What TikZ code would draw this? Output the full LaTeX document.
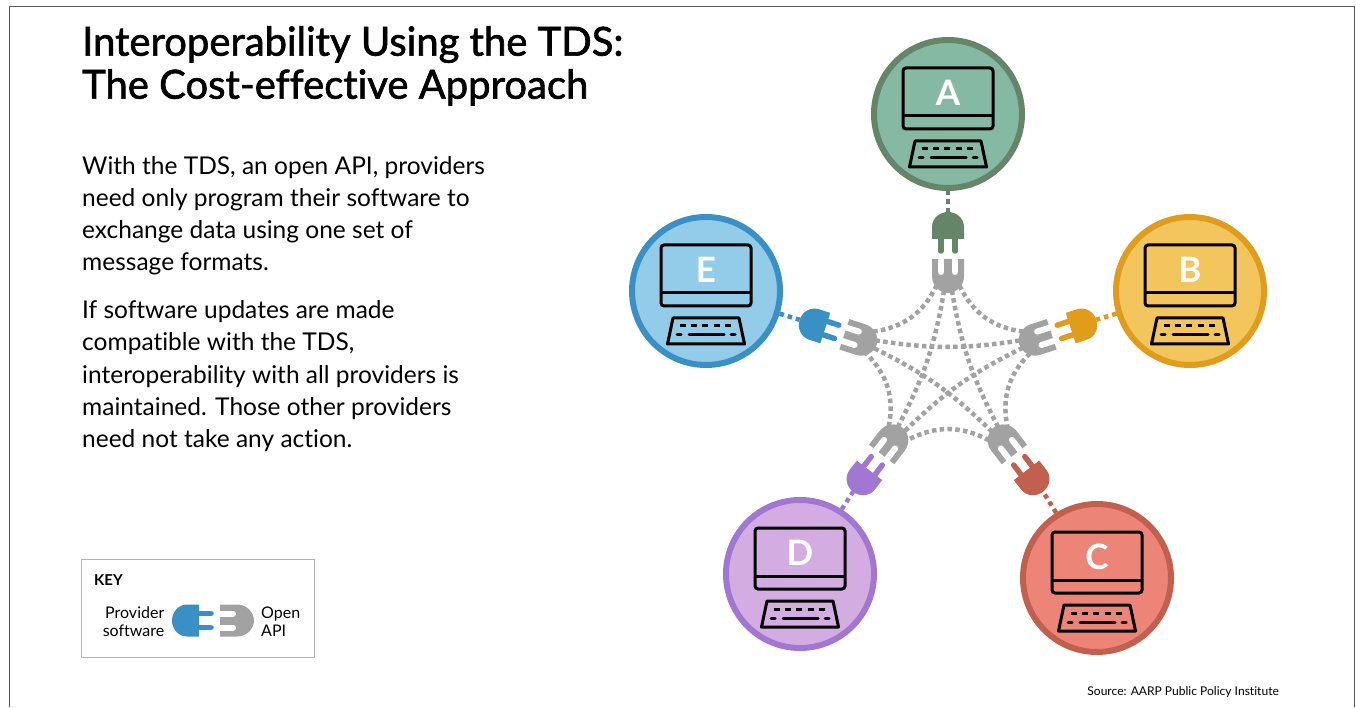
\documentclass[tikz,border=0pt]{standalone}
\usepackage{fontspec}
\setmainfont{Lato}[Ligatures=NoCommon]
\newfontfamily\headfont{Lato}[Ligatures=NoCommon,FakeBold=1.6]
\usetikzlibrary{calc}
\definecolor{fillA}{HTML}{86B9A4}
\definecolor{lineA}{HTML}{648567}
\definecolor{fillB}{HTML}{F2C65C}
\definecolor{lineB}{HTML}{E09C1A}
\definecolor{fillC}{HTML}{EC8578}
\definecolor{lineC}{HTML}{C1604E}
\definecolor{fillD}{HTML}{D3ADE2}
\definecolor{lineD}{HTML}{A177D2}
\definecolor{fillE}{HTML}{93CCE8}
\definecolor{lineE}{HTML}{3A8FC5}
\definecolor{apigray}{HTML}{A2A2A2}
\tikzset{pc/.style={
            circle,
            line width=6pt,
            inner sep=0pt,
            minimum size=148pt
        },
        pcletter/.style={
            text=white,
            inner sep=0pt,
            font=\fontsize{35}{35}\selectfont\bfseries
        },
        stub/.style={
            line width=4.5pt,
            dash pattern=on 4.5pt off 4pt
        },
        link/.style={
            apigray,
            line width=4.5pt,
            dash pattern=on 4.5pt off 3.3pt
        },
        title/.style={
            anchor=north west,
            align=left,
            inner sep=0pt,
            font=\fontsize{40}{43}\selectfont\headfont
        },
        para/.style={
            anchor=north west,
            align=left,
            inner sep=0pt,
            font=\fontsize{24.5}{32.2}\selectfont
        },
        keylabel/.style={
            inner sep=0pt,
            font=\fontsize{16}{18}\selectfont
        },
        pics/plug/.style={code={
            \fill[#1] (-16,-27) -- (-16,-15) .. controls (-16,-6) and (-8,0) .. (0,0)
                .. controls (8,0) and (16,-6) .. (16,-15) -- (16,-27) -- cycle;
            \draw[#1,line width=5.5pt,line cap=round] (-7,-27) -- (-7,-39) (7,-27) -- (7,-39);
        }},
        pics/socket/.style={code={
            \fill[apigray] (-16,0) -- (-16,-17) .. controls (-16,-27) and (-8,-34) .. (0,-34)
                .. controls (8,-34) and (16,-27) .. (16,-17) -- (16,0) -- cycle;
            \draw[white,line width=6pt,line cap=round] (-7,1) -- (-7,-13) (7,1) -- (7,-13);
        }},
        pics/computer/.style={code={
            \draw[line width=3pt,rounded corners=3pt] (-45,-15) rectangle (45,46);
            \draw[line width=3pt] (-45,-2) -- (45,-2);
            \draw[line width=3pt,line join=round] (-33,-27) -- (33,-27) -- (38.5,-53) -- (-38.5,-53) -- cycle;
            \draw[line width=3pt,dash pattern=on 6pt off 5.2pt] (-26,-35) -- (26,-35);
            \draw[line width=3pt,line cap=round] (-29,-44) -- (-25,-44) (-17,-44) -- (18,-44) (25,-44) -- (29,-44);
        }}
    }
\begin{document}
\begin{tikzpicture}[x=1pt,y=1pt]
    \useasboundingbox (0,0) rectangle (1356,707);
    % frame
    \draw[black!65,line width=1pt] (9,0) -- (9,700) -- (1354.5,700) -- (1354.5,0);

    \node[title] (heading) at (82,681) {Interoperability Using the TDS:\\The Cost-effective Approach};
    \node[para] (intro) at (82,551) {With the TDS, an open API, providers\\need only program their software to\\exchange data using one set of\\message formats.};
    \node[para] (updates) at (82,406.5) {If software updates are made\\compatible with the TDS,\\interoperability with all providers is\\maintained. Those other providers\\need not take any action.};

    % star centre
    \coordinate (hub) at (948,339);
    \foreach \name/\ang/\cx/\cy in {A/90/948/593,B/18/1190/416,C/-52.5/1097/129,D/-127.5/800/133,E/162/706/416}{
        \node[pc,draw=line\name,fill=fill\name] (pc\name) at (\cx,\cy) {};
        \pic at (pc\name) {computer};
        \node[pcletter] (letter\name) at ($(pc\name)+(0,21)$) {\name};
        \coordinate (plugtip\name) at ($(hub)+(\ang:156)$);
        \coordinate (sockmouth\name) at ($(hub)+(\ang:109)$);
        % where the dotted links leave the dome of the socket
        \foreach \i/\off in {1/50,2/15,3/-15,4/-50}
            \coordinate (dome\name\i) at ($(hub)+(\ang:92)+(\ang+180+\off:15)$);
        \draw[stub,line\name] (pc\name) -- (plugtip\name);
    }
    % dotted links between the sockets
    \foreach \a/\b in {A/B,B/C,C/D,D/E,E/A}
        \draw[link] (dome\a1) to[bend right=28] (dome\b4);
    \foreach \a/\b in {A/C,B/D,C/E,D/A,E/B}
        \draw[link] (dome\a2) to[bend right=9] (dome\b3);
    \foreach \name/\ang in {A/90,B/18,C/-52.5,D/-127.5,E/162}{
        \pic[rotate=\ang-90] at (plugtip\name) {plug=line\name};
        \pic[rotate=\ang-90] at (sockmouth\name) {socket};
    }

    % key
    \node[draw=black!30,line width=1pt,minimum width=233pt,minimum height=98pt,inner sep=0pt] (keybox) at (197.5,99) {};
    \node[keylabel,anchor=west,font=\fontsize{15}{18}\selectfont\bfseries] (keyhead) at (94,127) {KEY};
    \node[keylabel,anchor=east,align=right] (keyprovider) at (164.5,85.5) {Provider\\software};
    \node[keylabel,anchor=west,align=left] (keyapi) at (261,85.5) {Open\\API};
    \coordinate (keyplug) at (172,86.5);
    \coordinate (keysocket) at (220,86.5);
    \pic[rotate=90] at (keyplug) {plug=lineE};
    \pic[rotate=90] at (keysocket) {socket};

    \node[anchor=east,inner sep=0pt,font=\fontsize{12.05}{14}\selectfont] (source) at (1279,14.5) {Source: AARP Public Policy Institute};
\end{tikzpicture}
\end{document}
